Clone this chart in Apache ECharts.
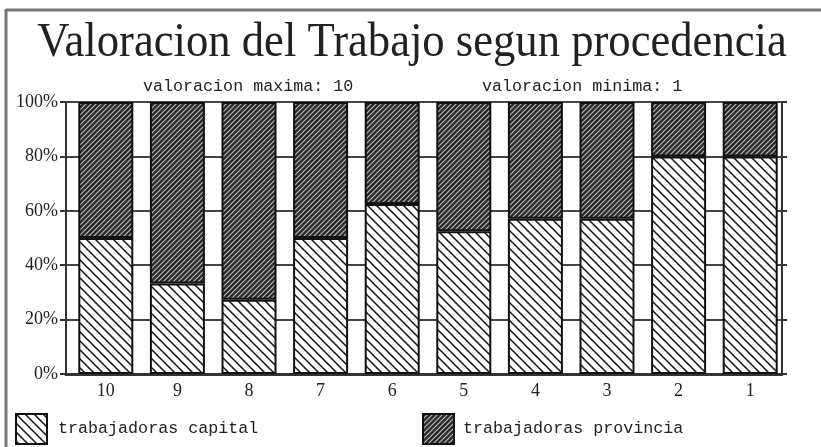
<!DOCTYPE html>
<html>
<head>
<meta charset="utf-8">
<script src="https://cdn.jsdelivr.net/npm/echarts@6/dist/echarts.min.js"></script>
<style>
  html, body { margin: 0; padding: 0; background: #fff; }
  #chart { width: 821px; height: 447px; }
</style>
</head>
<body>
<div id="chart"></div>
<script>
// valoracion 10 .. 1
var categorias = ['10', '9', '8', '7', '6', '5', '4', '3', '2', '1'];
// porcentaje trabajadoras capital
var capital = [50, 33.3, 27.3, 50, 62.5, 52.5, 57.1, 57.1, 80, 80];
// porcentaje trabajadoras provincia
var provincia = [50, 66.7, 72.7, 50, 37.5, 47.5, 42.9, 42.9, 20, 20];
var yTicks = [0, 20, 40, 60, 80, 100];

// rayado claro (\\\) para capital
function rayadoCapital(){
  var c = document.createElement('canvas');
  c.width = 9; c.height = 9;
  var ctx = c.getContext('2d');
  ctx.fillStyle = '#fff';
  ctx.fillRect(0, 0, 9, 9);
  ctx.strokeStyle = '#111';
  ctx.lineWidth = 1.5;
  ctx.beginPath();
  ctx.moveTo(-1, -1); ctx.lineTo(10, 10);
  ctx.moveTo(-1, 8); ctx.lineTo(1, 10);
  ctx.moveTo(8, -1); ctx.lineTo(10, 1);
  ctx.stroke();
  return c;
}
// rayado oscuro (///) para provincia
function rayadoProvincia(){
  var c = document.createElement('canvas');
  c.width = 5; c.height = 5;
  var ctx = c.getContext('2d');
  ctx.fillStyle = '#2a2a2a';
  ctx.fillRect(0, 0, 5, 5);
  ctx.strokeStyle = '#bdbdbd';
  ctx.lineWidth = 1.1;
  ctx.beginPath();
  ctx.moveTo(-1, 6); ctx.lineTo(6, -1);
  ctx.moveTo(-1, 1); ctx.lineTo(1, -1);
  ctx.moveTo(4, 6); ctx.lineTo(6, 4);
  ctx.stroke();
  return c;
}

var patCapital = { image: rayadoCapital(), repeat: 'repeat' };
var patProvincia = { image: rayadoProvincia(), repeat: 'repeat' };

var chart = echarts.init(document.getElementById('chart'));

var option = {
  animation: false,
  backgroundColor: '#fff',
  legend: [
    {
      data: ['trabajadoras capital'],
      left: 10, top: 408,
      icon: 'rect',
      itemWidth: 31, itemHeight: 30,
      textStyle: { fontFamily: 'Liberation Mono', fontSize: 16.7, color: '#222', padding: [0, 0, 0, 6] }
    },
    {
      data: ['trabajadoras provincia'],
      left: 417, top: 408,
      icon: 'rect',
      itemWidth: 31, itemHeight: 30,
      textStyle: { fontFamily: 'Liberation Mono', fontSize: 16.7, color: '#222', padding: [0, 0, 0, 4] }
    }
  ],
  graphic: [
    { type: 'line', shape: { x1: 6, y1: 9, x2: 6, y2: 447 }, style: { stroke: '#777', lineWidth: 3 } },
    { type: 'line', shape: { x1: 6, y1: 10, x2: 821, y2: 10 }, style: { stroke: '#777', lineWidth: 3 } },
    {
      type: 'text', x: 412, y: 19, scaleX: 0.93,
      style: {
        text: 'Valoracion del Trabajo segun procedencia',
        font: '48px "Liberation Serif"', fill: '#222',
        align: 'center', verticalAlign: 'top'
      }
    },
    {
      type: 'text', left: 143, top: 78,
      style: { text: 'valoracion maxima: 10', font: '16.7px "Liberation Mono"', fill: '#222' }
    },
    {
      type: 'text', left: 482, top: 78,
      style: { text: 'valoracion minima: 1', font: '16.7px "Liberation Mono"', fill: '#222' }
    }
  ],
  grid: [
    { left: 66, right: 39, top: 102, bottom: 73 },
    { left: 70, right: 35, top: 102, bottom: 73 }
  ],
  xAxis: [
    {
      gridIndex: 0, type: 'category', data: categorias,
      axisLine: { lineStyle: { color: '#333', width: 3 } },
      axisTick: { show: false }, axisLabel: { show: false }
    },
    {
      gridIndex: 1, type: 'category', data: categorias,
      axisLine: { show: false }, axisTick: { show: false },
      axisLabel: { fontFamily: 'Liberation Serif', fontSize: 18, color: '#222', margin: 8 }
    }
  ],
  yAxis: [
    {
      gridIndex: 0, type: 'value', min: yTicks[0], max: yTicks[yTicks.length - 1], interval: 20,
      axisLine: { show: true, lineStyle: { color: '#333', width: 2 } },
      axisTick: { show: true, length: 6, lineStyle: { color: '#333', width: 2 } },
      axisLabel: { formatter: '{value}%', fontFamily: 'Liberation Serif', fontSize: 18, color: '#222', margin: 8 },
      splitLine: { show: true, lineStyle: { color: '#444', width: 2 } }
    },
    {
      gridIndex: 0, type: 'value', position: 'right', min: 0, max: 100, interval: 20,
      axisLine: { show: true, lineStyle: { color: '#333', width: 2 } },
      axisTick: { show: true, length: 5, lineStyle: { color: '#333', width: 2 } },
      axisLabel: { show: false }, splitLine: { show: false }
    },
    {
      gridIndex: 1, type: 'value', min: 0, max: 100, show: false
    }
  ],
  series: [
    {
      name: 'trabajadoras capital',
      type: 'bar', stack: 'total',
      xAxisIndex: 1, yAxisIndex: 2,
      barWidth: 55,
      data: capital,
      itemStyle: { color: patCapital, borderColor: '#111', borderWidth: 2 }
    },
    {
      name: 'trabajadoras provincia',
      type: 'bar', stack: 'total',
      xAxisIndex: 1, yAxisIndex: 2,
      barWidth: 55,
      data: provincia,
      itemStyle: { color: patProvincia, borderColor: '#111', borderWidth: 2 }
    }
  ]
};

chart.setOption(option);
</script>
</body>
</html>
